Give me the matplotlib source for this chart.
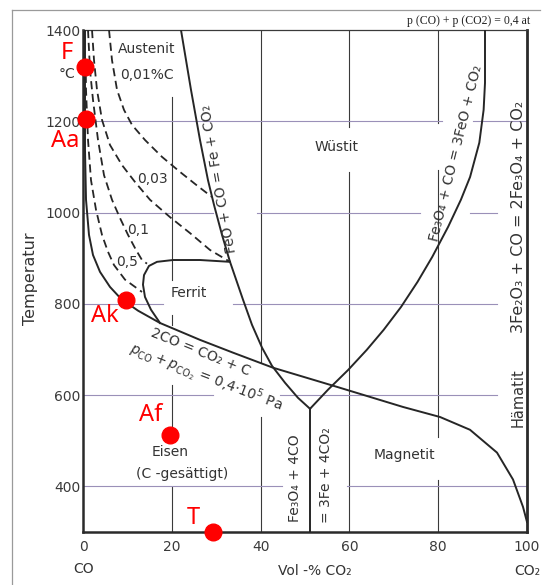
import matplotlib
matplotlib.use("Agg")
import matplotlib.pyplot as plt
from matplotlib.lines import Line2D

plt.rcParams['font.family'] = ['DejaVu Sans']

# ---------------- data (Vol-% CO2, temperature in °C) ----------------
x_ticks = [0, 20, 40, 60, 80, 100]
y_ticks = [400, 600, 800, 1000, 1200, 1400]

# Boudouard equilibrium 2CO = CO2 + C
boud_co2 = [0.45, 0.45, 0.68, 1.35, 2.25, 3.83, 6.08, 8.56, 12.39, 17.34, 26.35,
            33.78, 42.79, 57.21, 72.07, 80.41, 87.16, 93.24, 96.85, 99.1, 100]
boud_T = [1400, 1137, 1028, 951, 907, 870, 837, 811, 785, 758, 721,
          693, 660, 618, 574, 552, 524, 474, 415, 355, 322]

# FeO + CO = Fe + CO2
fe_feo_co2 = [22.07, 24.32, 26.35, 28.15, 29.5, 31.31, 33.11, 36.04, 38.06,
              40.32, 42.57, 45.5, 48.42, 51.13]
fe_feo_T = [1400, 1269, 1159, 1071, 1017, 951, 892, 809, 754,
            704, 664, 627, 594, 570]

# Fe3O4 + CO = 3FeO + CO2
mag_wus_co2 = [90.54, 90.54, 90.23, 89.26, 87.18, 85.11, 82.25, 78.67, 75.34,
               71.62, 67.72, 63.9, 59.71, 55.2, 51.13]
mag_wus_T = [1400, 1284, 1225, 1153, 1078, 1028, 969, 903, 848,
             793, 743, 699, 655, 612, 570]

# Fe3O4 + 4CO = 3Fe + 4CO2
fe_mag_co2 = [51.13, 51.13]
fe_mag_T = [570, 300]

# ferrite / austenite boundary
ferrit_co2 = [33.11, 26.35, 20.27, 16.67, 14.86, 13.74, 13.51, 13.96, 15.32, 17.34]
ferrit_T = [892, 896, 896, 892, 883, 863, 842, 815, 787, 758]

# iso-carbon lines in austenite (dashed)
iso_001_co2 = [5.86, 6.53, 7.66, 9.23, 11.04, 13.96, 17.79, 21.85, 25.45, 29.05]
iso_001_T = [1400, 1334, 1269, 1225, 1192, 1159, 1122, 1089, 1061, 1034]
iso_003_co2 = [2.03, 2.48, 3.15, 4.28, 6.08, 8.78, 11.71, 15.09, 19.59, 24.1, 28.6, 33.11]
iso_003_T = [1400, 1334, 1269, 1203, 1148, 1104, 1067, 1028, 990, 955, 918, 892]
iso_01_co2 = [1.13, 1.58, 2.25, 3.38, 4.73, 6.53, 8.33, 10.14, 11.94, 13.29, 14.41]
iso_01_T = [1400, 1312, 1247, 1159, 1082, 1028, 988, 951, 918, 896, 888]
iso_05_co2 = [0.6, 0.68, 1.13, 1.8, 2.93, 4.28, 5.63, 6.98, 9.46, 13.29]
iso_05_T = [1330, 1269, 1159, 1071, 1006, 951, 914, 885, 853, 826]

# marked points
pt_names = ['F', 'Aa', 'Ak', 'Af', 'T']
pt_co2 = [0.45, 0.68, 9.68, 19.6, 29.3]
pt_T = [1319, 1205, 809, 513, 300]

# ---------------- figure ----------------
W, H = 542, 585
fig = plt.figure(figsize=(W / 100, H / 100), dpi=100)
fig.patch.set_facecolor('white')
ax = fig.add_axes([83 / W, 1 - 532 / H, 444 / W, 502 / H])
ax.set_xlim(0, 100)
ax.set_ylim(300, 1400)

# outer frame (top + left)
fig.add_artist(Line2D([12 / W, 540 / W], [1 - 10 / H, 1 - 10 / H], transform=fig.transFigure,
                      color='#9a9a9a', lw=0.9))
fig.add_artist(Line2D([12 / W, 12 / W], [0.0, 1 - 10 / H], transform=fig.transFigure,
                      color='#9a9a9a', lw=0.9))

# grid with gaps
vgrid = {20: [(1253, 853), (776, 754), (622, 506), (399, 300)],
         40: [(1400, 673), (552, 300)],
         60: [(1400, 1188), (1089, 300)],
         80: [(1400, 1196), (1093, 509), (415, 300)]}
hgrid = {1200: [(0, 80.9), (87.8, 100)],
         1000: [(0, 29.3), (39.2, 75.9), (87.2, 93.2)],
         800: [(0, 18.0), (33.8, 93.2)],
         600: [(0, 29.3), (44.4, 93.2)],
         400: [(0, 44.8), (59.5, 100)]}
for xv, segs in vgrid.items():
    for t0, t1 in segs:
        ax.plot([xv, xv], [t0, t1], color='#3a3a3a', lw=0.8, zorder=1)
for tv, segs in hgrid.items():
    for x0, x1 in segs:
        ax.plot([x0, x1], [tv, tv], color='#9a90b8', lw=0.8, zorder=1)

line_c = '#262626'
for xs, ts in [(boud_co2, boud_T), (fe_feo_co2, fe_feo_T), (mag_wus_co2, mag_wus_T),
               (fe_mag_co2, fe_mag_T), (ferrit_co2, ferrit_T)]:
    ax.plot(xs, ts, color=line_c, lw=1.4, zorder=3, solid_joinstyle='round')
for xs, ts in [(iso_001_co2, iso_001_T), (iso_003_co2, iso_003_T),
               (iso_01_co2, iso_01_T), (iso_05_co2, iso_05_T)]:
    ax.plot(xs, ts, color=line_c, lw=1.3, ls=(0, (4.5, 2.6)), zorder=3)

# spines
for s in ['left', 'bottom']:
    ax.spines[s].set_linewidth(1.8)
    ax.spines[s].set_color('#2a2a2a')
ax.spines['right'].set_linewidth(2.0)
ax.spines['right'].set_color('#2a2a2a')
ax.spines['top'].set_linewidth(0.9)
ax.spines['top'].set_color('#3a3a3a')

ax.set_xticks(x_ticks)
ax.set_yticks(y_ticks)
ax.set_xticklabels([str(v) for v in x_ticks])
ax.set_yticklabels([str(v) for v in y_ticks])
ax.tick_params(axis='both', length=0, labelsize=10, labelcolor='#3a3a3a')
ax.tick_params(axis='x', pad=6)
ax.tick_params(axis='y', pad=2)

tc = '#333333'
fs = 10
# axis texts
fig.text(30 / W, 1 - 279 / H, 'Temperatur', rotation=90, ha='center', va='center',
         fontsize=11.5, color=tc)
fig.text(67 / W, 1 - 74 / H, '°C', ha='center', va='center', fontsize=fs, color=tc)
fig.text(84 / W, 1 - 569 / H, 'CO', ha='center', va='center', fontsize=fs, color=tc)
fig.text(315 / W, 1 - 571 / H, 'Vol -% CO₂', ha='center', va='center', fontsize=fs, color=tc)
fig.text(527 / W, 1 - 571 / H, 'CO₂', ha='center', va='center', fontsize=fs, color=tc)
fig.text(530 / W, 1 - 21 / H, 'p (CO) + p (CO2) = 0,4 at', ha='right', va='center',
         fontsize=8.5, family='Liberation Serif', color='#222222')

# region and line labels
def lab(x, t, s, rot=0, size=fs):
    ax.text(x, t, s, ha='center', va='center', rotation=rot, rotation_mode='anchor',
            fontsize=size, color=tc, zorder=4)

lab(14.4, 1358, 'Austenit')
lab(14.4, 1301, '0,01%C')
lab(15.6, 1074, '0,03')
lab(12.4, 962, '0,1')
lab(9.9, 892, '0,5')
lab(23.9, 824, 'Ferrit')
lab(57.2, 1144, 'Wüstit')
lab(72.5, 469, 'Magnetit')
lab(19.6, 476, 'Eisen')
lab(22.3, 428, '(C -gesättigt)')
lab(26.4, 695, '2CO = CO₂ + C', rot=-22)
lab(27.6, 638, r'$p_{\rm CO} + p_{\rm CO_2}$ = 0,4·10$^5$ Pa', rot=-21)
lab(30.7, 1075, 'FeO + CO = Fe + CO₂', rot=100)
lab(84.0, 1130, 'Fe₃O₄ + CO = 3FeO + CO₂', rot=76)
lab(47.8, 419, 'Fe₃O₄ + 4CO', rot=90)
lab(54.7, 425, '= 3Fe + 4CO₂', rot=90)
lab(98.0, 594, 'Hämatit', rot=90, size=10.5)
lab(98.0, 990, '3Fe₂O₃ + CO = 2Fe₃O₄ + CO₂', rot=90, size=11.5)

# red marked points
red = '#ff0000'
ax.plot(pt_co2, pt_T, 'o', color=red, ms=12, zorder=6, clip_on=False)
offsets = {'F': (-13, 10), 'Aa': (-15, -16), 'Ak': (-15, -12), 'Af': (-14, 14), 'T': (-14, 10)}
for n, x, t in zip(pt_names, pt_co2, pt_T):
    ax.annotate(n, (x, t), xytext=offsets[n], textcoords='offset points', ha='center',
                va='center', fontsize=17, color=red, family='Noto Sans', zorder=7,
                annotation_clip=False)

fig.savefig('out.png', dpi=100, facecolor='white')
